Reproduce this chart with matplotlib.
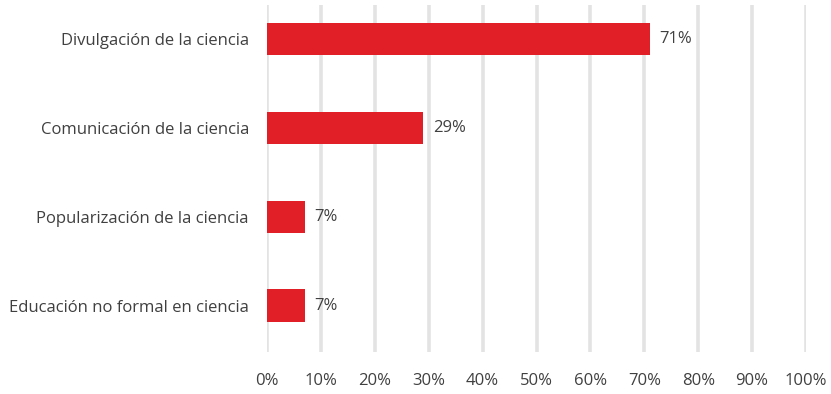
import matplotlib.pyplot as plt
from matplotlib.ticker import FuncFormatter

categories = [
    "Divulgación de la ciencia",
    "Comunicación de la ciencia",
    "Popularización de la ciencia",
    "Educación no formal en ciencia",
]
values = [71, 29, 7, 7]
ticks = list(range(0, 101, 10))

plt.rcParams["font.family"] = ["Open Sans", "DejaVu Sans"]

fig = plt.figure(figsize=(8.31, 3.94), dpi=100)
ax = fig.add_axes([267 / 831, 42 / 394, 539 / 831, 347 / 394])

pos = list(range(len(categories)))
ax.barh(pos, values, height=0.365, color="#e01f27", zorder=3)

for y, v in zip(pos, values):
    ax.text(v + 1.8, y, f"{v}%", va="center", ha="left",
            fontsize=12, color="#404040")

ax.set_xlim(0, 100)
ax.set_ylim(3.52, -0.38)
ax.set_yticks(pos)
ax.set_yticklabels(categories, fontsize=12, color="#404040")
ax.set_xticks(ticks)
ax.xaxis.set_major_formatter(FuncFormatter(lambda x, _: f"{x:.0f}%"))
ax.tick_params(axis="x", length=0, pad=15, labelsize=12, labelcolor="#404040")
ax.tick_params(axis="y", length=0, pad=13)

ax.grid(axis="x", color="#e3e3e3", linewidth=2.6, zorder=0)
for s in ax.spines.values():
    s.set_visible(False)

fig.savefig("out.png", dpi=100)
